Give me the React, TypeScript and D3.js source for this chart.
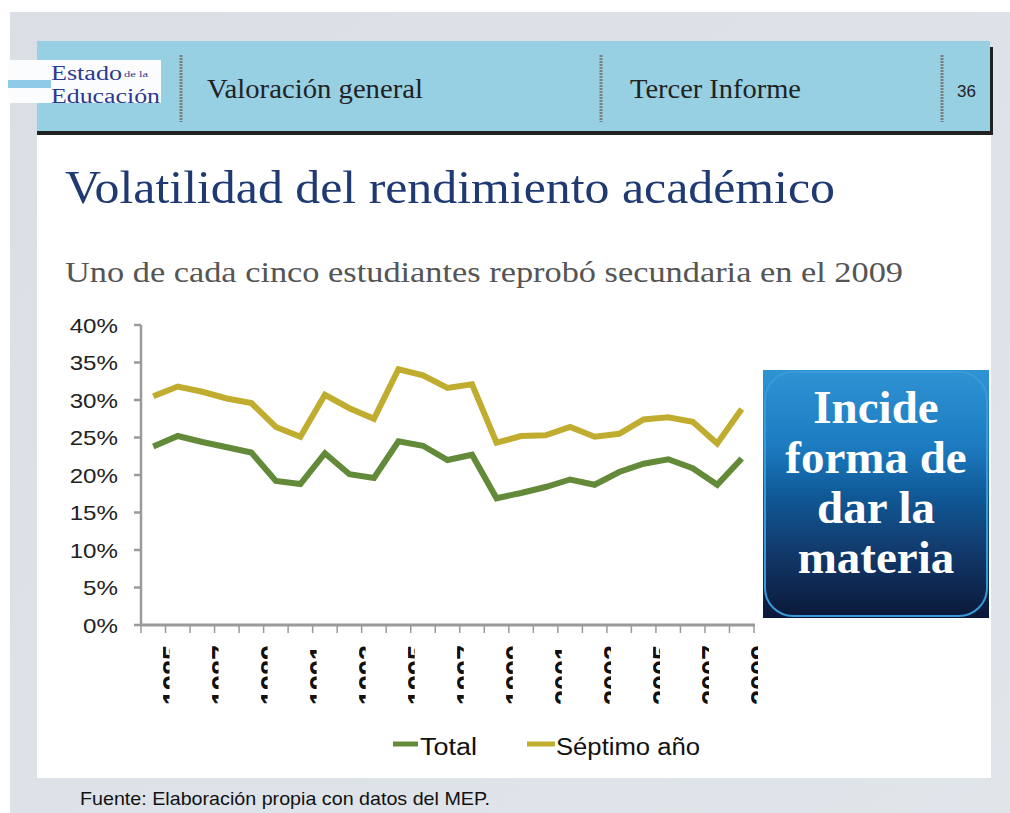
import React from "react";
import * as d3 from "d3";

const years: number[] = [1985,1986,1987,1988,1989,1990,1991,1992,1993,1994,1995,1996,1997,1998,1999,2000,2001,2002,2003,2004,2005,2006,2007,2008,2009];
const totalValues: number[] = [23.8,25.2,24.4,23.7,23.0,19.2,18.8,22.9,20.1,19.6,24.5,23.9,22.0,22.7,16.9,17.6,18.4,19.4,18.7,20.4,21.5,22.1,20.9,18.7,22.2];
const septimoValues: number[] = [30.5,31.8,31.1,30.2,29.6,26.4,25.1,30.7,28.9,27.5,34.1,33.3,31.6,32.1,24.3,25.2,25.3,26.4,25.1,25.5,27.4,27.7,27.1,24.2,28.8];
const yTicks: number[] = [0,5,10,15,20,25,30,35,40];
const boxLines: string[] = ["Incide","forma de","dar la","materia"];
const seriesNames: string[] = ["Total","Séptimo año"];

const GREEN = "#628a38";
const YELLOW = "#c0ad30";

export default function App() {
  const x = d3.scaleBand<number>().domain(years).range([141, 754]).padding(0);
  const y = d3.scaleLinear().domain([0, 40]).range([625, 325]);
  const cx = (yr: number) => (x(yr) as number) + x.bandwidth() / 2;
  const line = d3.line<number>().x((_, i) => cx(years[i])).y((v) => y(v));

  const sans = "'Liberation Sans', Arial, sans-serif";
  const serif = "'Liberation Serif', 'Times New Roman', serif";

  // x labels every other year, drawn at the right edge of the band (clipped as in the source)
  const labelYears = years.filter((_, i) => i % 2 === 0);

  return (
    <svg width={1010} height={813} style={{ position: "absolute", left: 0, top: 0 }}>
      <defs>
        <linearGradient id="boxGrad" x1="0" y1="0" x2="0" y2="1">
          <stop offset="0" stopColor="#2f93d3" />
          <stop offset="0.3" stopColor="#1d7cc2" />
          <stop offset="0.5" stopColor="#0f5a98" />
          <stop offset="0.72" stopColor="#123b6e" />
          <stop offset="1" stopColor="#0b1838" />
        </linearGradient>
        <linearGradient id="bgGrad" x1="0" y1="0" x2="1" y2="1">
          <stop offset="0" stopColor="#dadfe6" />
          <stop offset="1" stopColor="#e0e5ea" />
        </linearGradient>
        {labelYears.map((yr) => {
          const lx = (x(yr) as number) + x.bandwidth();
          return (
            <clipPath id={`clip-${yr}`} key={yr}>
              <rect x={lx - 3} y={640} width={7} height={75} />
            </clipPath>
          );
        })}
      </defs>
      <rect x={0} y={0} width={1010} height={813} fill="#ffffff" />
      <rect x={10} y={12} width={1000} height={801} fill="url(#bgGrad)" />

      {/* white slide panel */}
      <rect x={37} y={132} width={954} height={646} fill="#ffffff" />

      {/* header band */}
      <rect x={37} y={41} width={953} height={90} fill="#97cfe3" />
      <rect x={37} y={131} width={956} height={4} fill="#222" />
      <rect x={990} y={47} width={3} height={88} fill="#222" />

      {/* logo */}
      <rect x={8} y={60} width={153} height={43} fill="#fbfcfe" />
      <rect x={8} y={80} width={43} height={8} fill="#8ecbe8" />
      <text x={51} y={80} fontFamily={serif} fontSize={20} fill="#2b3990" textLength={71} lengthAdjust="spacingAndGlyphs">Estado</text>
      <text x={124} y={77} fontFamily={serif} fontSize={9} fill="#2b3990" textLength={24} lengthAdjust="spacingAndGlyphs">de la</text>
      <text x={51} y={103} fontFamily={serif} fontSize={20} fill="#2b3990" textLength={109} lengthAdjust="spacingAndGlyphs">Educación</text>

      {/* dotted separators */}
      {[181, 601, 942].map((sx) => (
        <line key={sx} x1={sx} x2={sx} y1={55} y2={122} stroke="#7d7d7d" strokeWidth={3} strokeDasharray="2,1" />
      ))}
      <text x={207} y={98} fontFamily={serif} fontSize={28} fill="#222" textLength={216} lengthAdjust="spacingAndGlyphs">Valoración general</text>
      <text x={630} y={98} fontFamily={serif} fontSize={28} fill="#222" textLength={171} lengthAdjust="spacingAndGlyphs">Tercer Informe</text>
      <text x={957} y={97} fontFamily={sans} fontSize={17} fill="#222">36</text>

      {/* title & subtitle */}
      <text x={65} y={203} fontFamily={serif} fontSize={47} fill="#1f3a73" textLength={770} lengthAdjust="spacingAndGlyphs">Volatilidad del rendimiento académico</text>
      <text x={65} y={282} fontFamily={serif} fontSize={30} fill="#555555" textLength={838} lengthAdjust="spacingAndGlyphs">Uno de cada cinco estudiantes reprobó secundaria en el 2009</text>

      {/* y axis */}
      <line x1={141} x2={141} y1={325} y2={626} stroke="#9a9a9a" strokeWidth={2.5} />
      {yTicks.map((t) => {
        const label = `${t}%`;
        const w = ((label.length - 1) * 0.556 + 0.889) * 21 * 1.15;
        return (
          <g key={t}>
            <line x1={134} x2={141} y1={y(t)} y2={y(t)} stroke="#9a9a9a" strokeWidth={2.5} />
            <text x={118 - w} y={y(t) + 7.5} fontFamily={sans} fontSize={21} fill="#222" textLength={w} lengthAdjust="spacingAndGlyphs">{label}</text>
          </g>
        );
      })}

      {/* x axis */}
      <line x1={140} x2={755} y1={625} y2={625} stroke="#9a9a9a" strokeWidth={3} />
      {[...years.map((yr) => x(yr) as number), 754].map((tx, i) => (
        <line key={i} x1={tx} x2={tx} y1={625} y2={633} stroke="#9a9a9a" strokeWidth={1.5} />
      ))}
      {labelYears.map((yr) => {
        const lx = (x(yr) as number) + x.bandwidth();
        return (
          <g key={yr} clipPath={`url(#clip-${yr})`}>
            <text transform={`translate(${lx - 3 + 19},645) rotate(-90)`} textAnchor="end" fontFamily={sans} fontWeight="bold" fontSize={27} fill="#111">{yr}</text>
          </g>
        );
      })}

      {/* lines */}
      <path d={line(septimoValues) || ""} fill="none" stroke={YELLOW} strokeWidth={6} strokeLinejoin="miter" />
      <path d={line(totalValues) || ""} fill="none" stroke={GREEN} strokeWidth={6} strokeLinejoin="miter" />

      {/* legend */}
      <line x1={393} x2={418} y1={744} y2={744} stroke={GREEN} strokeWidth={5} />
      <text x={420} y={755} fontFamily={sans} fontSize={23} fill="#111" textLength={57} lengthAdjust="spacingAndGlyphs">{seriesNames[0]}</text>
      <line x1={527} x2={555} y1={744} y2={744} stroke={YELLOW} strokeWidth={5} />
      <text x={556} y={755} fontFamily={sans} fontSize={23} fill="#111" textLength={144} lengthAdjust="spacingAndGlyphs">{seriesNames[1]}</text>

      {/* callout box */}
      <rect x={763} y={370} width={226} height={248} fill="url(#boxGrad)" />
      <rect x={765} y={372} width={222} height={244} rx={28} fill="none" stroke="#3a9ad8" strokeWidth={2} />
      {boxLines.map((t, i) => (
        <text key={t} x={876} y={423 + i * 50} textAnchor="middle" fontFamily={serif} fontWeight="bold" fontSize={47} fill="#ffffff">{t}</text>
      ))}

      {/* footer */}
      <text x={80} y={805} fontFamily={sans} fontSize={19} fill="#111" textLength={410} lengthAdjust="spacingAndGlyphs">Fuente: Elaboración propia con datos del MEP.</text>
    </svg>
  );
}
